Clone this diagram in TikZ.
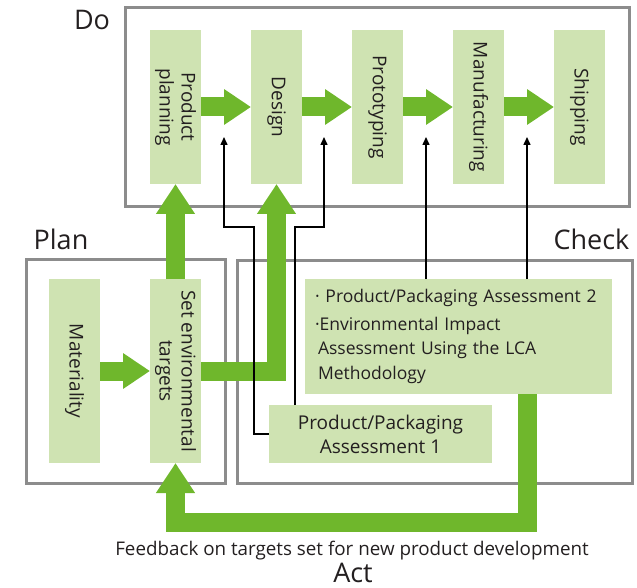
\documentclass[tikz,border=0pt]{standalone}
\usepackage{fontspec}
\setmainfont{Open Sans}
\usetikzlibrary{arrows.meta}
\definecolor{FlowGreen}{RGB}{111,183,44}
\definecolor{StageFill}{RGB}{207,227,178}
\definecolor{FrameGray}{RGB}{140,140,140}
\definecolor{TextGray}{RGB}{35,31,32}

\begin{document}
\begin{tikzpicture}[x=1pt,y=-1pt]
  \tikzset{FrameStyle/.style = {
    shape         = rectangle,
    draw          = FrameGray,
    line width    = 3pt,
    inner sep     = 0pt,
    outer sep     = 0pt
    }
  }
  \tikzset{StageStyle/.style = {
    shape          = rectangle,
    fill           = StageFill,
    text           = TextGray,
    rotate         = -90,
    align          = center,
    inner sep      = 0pt,
    outer sep      = 0pt,
    minimum width  = 154pt,
    minimum height = 51pt,
    font           = \fontsize{19}{22}\selectfont
    }
  }
  \tikzset{CheckBoxStyle/.style = {
    shape         = rectangle,
    fill          = StageFill,
    text          = TextGray,
    inner sep     = 0pt,
    outer sep     = 0pt,
    font          = \fontsize{17.5}{24.5}\selectfont
    }
  }
  \tikzset{PhaseLabelStyle/.style = {
    text          = TextGray,
    inner sep     = 0pt,
    anchor        = base,
    font          = \fontsize{27}{30}\selectfont
    }
  }
  \tikzset{FlowArrowH/.style = {
    draw          = FlowGreen,
    line width    = 19pt,
    -{Triangle[length=27pt,width=34pt]}
    }
  }
  \tikzset{FlowArrowV/.style = {
    draw          = FlowGreen,
    line width    = 19pt,
    -{Triangle[length=30pt,width=37pt]}
    }
  }
  \tikzset{CheckLineStyle/.style = {
    draw          = black,
    line width    = 1.5pt,
    -{Triangle[length=8pt,width=7pt]}
    }
  }

  \useasboundingbox (0,0) rectangle (637,588);

  % frames
  \node[FrameStyle, minimum width=504pt, minimum height=199pt](DoFrame) at (377,107.5) {};
  \node[FrameStyle, minimum width=199pt, minimum height=224pt](PlanFrame) at (125.5,371) {};
  \node[FrameStyle, minimum width=395pt, minimum height=223pt](CheckFrame) at (434.5,371.5) {};

  \node[PhaseLabelStyle](DoLabel) at (92,30) {Do};
  \node[PhaseLabelStyle](PlanLabel) at (61,249) {Plan};
  \node[PhaseLabelStyle](CheckLabel) at (591.5,249) {Check};
  \node[PhaseLabelStyle](ActLabel) at (353,582) {Act};

  % do stages
  \node[StageStyle](PP) at (175.5,107) {Product\\planning};
  \node[StageStyle](DS) at (276.5,107) {Design};
  \node[StageStyle](PT) at (377.5,107) {Prototyping};
  \node[StageStyle](MF) at (478.5,107) {Manufacturing};
  \node[StageStyle](SH) at (579.5,107) {Shipping};

  % plan stages
  \node[StageStyle, minimum width=184pt](MAT) at (74.5,371) {Materiality};
  \node[StageStyle, minimum width=184pt](SET) at (175.5,371) {Set environmental\\targets};

  % check boxes
  \node[CheckBoxStyle, minimum height=115pt, text width=287pt, inner xsep=10pt, align=left](A2) at (458.5,336.5)
    {· Product/Packaging Assessment 2\\[3pt]·Environmental Impact\\\hspace*{3pt}Assessment Using the LCA\\\hspace*{3pt}Methodology};
  \node[CheckBoxStyle, minimum width=223pt, minimum height=58pt, align=center, font=\fontsize{19}{24}\selectfont](A1) at (380.5,434)
    {Product/Packaging\\Assessment 1};

  \node[text=TextGray, inner sep=0pt, anchor=base, font=\fontsize{18.8}{20}\selectfont](FB) at (352,555)
    {Feedback on targets set for new product development};

  % green flow
  \draw[FlowArrowH](PP) -- (DS);
  \draw[FlowArrowH](DS) -- (PT);
  \draw[FlowArrowH](PT) -- (MF);
  \draw[FlowArrowH](MF) -- (SH);
  \draw[FlowArrowH](MAT) -- (SET);
  \draw[FlowArrowV](SET) -- (PP);
  \draw[FlowArrowV](SET) -| (DS);
  \coordinate (fb) at (527,522);
  \draw[FlowArrowV](A2.south -| fb) -- (fb) -| (SET);

  % check lines
  \coordinate (t1) at (224,137);
  \coordinate (t2) at (324,137);
  \coordinate (t3) at (426,137);
  \coordinate (t4) at (527,137);
  \draw[CheckLineStyle](A1.west) -| (254,227) -| (t1);
  \draw[CheckLineStyle]([xshift=26pt]A1.north west) |- (324,227) -- (t2);
  \draw[CheckLineStyle](A2.north -| t3) -- (t3);
  \draw[CheckLineStyle](A2.north -| t4) -- (t4);
\end{tikzpicture}
\end{document}
